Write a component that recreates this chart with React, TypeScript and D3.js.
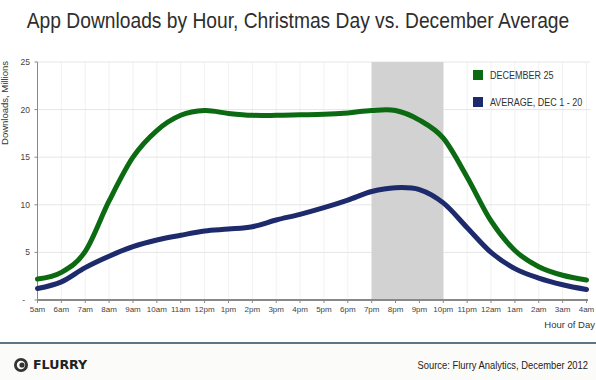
import React from "react";
import * as d3 from "d3";

const hours = ["5am","6am","7am","8am","9am","10am","11am","12pm","1pm","2pm","3pm","4pm","5pm","6pm","7pm","8pm","9pm","10pm","11pm","12am","1am","2am","3am","4am"];
const dec25 = [2.2,2.9,5.1,10.4,15.0,17.8,19.4,19.9,19.6,19.4,19.4,19.45,19.5,19.65,19.9,19.9,18.9,17.0,12.9,8.3,5.2,3.5,2.6,2.1];
const decAvg = [1.2,1.9,3.4,4.6,5.6,6.3,6.8,7.25,7.45,7.7,8.4,9.0,9.7,10.5,11.4,11.8,11.6,10.2,7.6,5.0,3.3,2.3,1.6,1.1];
const yTicks = [0,5,10,15,20,25];
const bandStart = "7pm";
const bandEnd = "10pm";
const seriesNames = ["DECEMBER 25","AVERAGE, DEC 1 - 20"];
const seriesColors = ["#0b6a12","#1d2a6b"];

export default function App() {
  const W = 596, H = 380;
  const x = d3.scalePoint<string>().domain(hours).range([37.5, 586.5]);
  const y = d3.scaleLinear().domain([0, 25]).range([300, 62]);
  const line = d3.line<number>()
    .x((_, i) => x(hours[i]) as number)
    .y((d) => y(d))
    .curve(d3.curveCatmullRom.alpha(0));
  const series = [dec25, decAvg];
  return (
    <svg width={W} height={H} style={{ position: "absolute", left: 0, top: 0, background: "#fff" }}
      fontFamily="'Liberation Sans', Arial, sans-serif">
      <g transform="translate(298,28) scale(0.874,1)">
        <text x={0} y={0} textAnchor="middle" fontSize={22} fill="#2e2e2e">
          App Downloads by Hour, Christmas Day vs. December Average
        </text>
      </g>
      {hours.map((h) => (
        <line key={"vg" + h} x1={x(h)} x2={x(h)} y1={y(25)} y2={y(0)} stroke="#f1f1f1" strokeWidth={1} />
      ))}
      {yTicks.filter((t) => t > 0).map((t) => (
        <line key={"hg" + t} x1={37.5} x2={590} y1={y(t)} y2={y(t)} stroke="#e6e6e6" strokeWidth={1} />
      ))}
      <rect x={x(bandStart)} y={y(25)} width={(x(bandEnd) as number) - (x(bandStart) as number)} height={y(0) - y(25)} fill="#d2d2d2" />
      <line x1={37.5} x2={37.5} y1={y(25)} y2={y(0)} stroke="#888" strokeWidth={1} />
      {yTicks.map((t) => (
        <g key={"yt" + t}>
          <line x1={34.5} x2={37.5} y1={y(t)} y2={y(t)} stroke="#888" />
          <text x={t === 0 ? 25 : 30} y={y(t) + 3} textAnchor="end" fontSize={8.5} fill="#444">
            {t === 0 ? "-" : t}
          </text>
        </g>
      ))}
      <line x1={37.5} x2={588} y1={y(0)} y2={y(0)} stroke="#888" strokeWidth={2} />
      {hours.map((h) => (
        <g key={"xt" + h}>
          <line x1={x(h)} x2={x(h)} y1={y(0)} y2={y(0) + 3} stroke="#888" />
          <text x={x(h)} y={312} textAnchor="middle" fontSize={8} fill="#444">{h}</text>
        </g>
      ))}
      {series.map((s, i) => (
        <path key={"s" + i} d={line(s) || ""} fill="none" stroke={seriesColors[i]} strokeWidth={5} strokeLinecap="round" strokeLinejoin="round" />
      ))}
      {seriesNames.map((n, i) => (
        <g key={"lg" + i}>
          <rect x={473} y={70 + i * 27} width={10} height={10} fill={seriesColors[i]} />
          <g transform={`translate(490,${79 + i * 27}) scale(0.9,1)`}>
            <text x={0} y={0} fontSize={10} fill="#333">{n}</text>
          </g>
        </g>
      ))}
      <text transform="translate(8,103) rotate(-90)" textAnchor="middle" fontSize={9.5} fill="#333">Downloads, Millions</text>
      <text x={595} y={328} textAnchor="end" fontSize={9.5} fill="#333">Hour of Day</text>
      <rect x={0} y={344} width={W} height={36} fill="#fbfbf9" />
      <line x1={0} x2={W} y1={343} y2={343} stroke="#5f7584" strokeWidth={2} />
      <circle cx={21} cy={365} r={7} fill="#333" />
      <circle cx={21} cy={365} r={4.2} fill="#fbfbf9" />
      <circle cx={22} cy={365} r={2.6} fill="#333" />
      <g transform="translate(33,369) scale(1.05,1)">
        <text x={0} y={0} fontSize={12} fontWeight="bold" fill="#222" fontFamily="'DejaVu Sans', sans-serif">FLURRY</text>
      </g>
      <g transform="translate(588,369) scale(0.853,1)">
        <text x={0} y={0} textAnchor="end" fontSize={11} fill="#222">Source: Flurry Analytics, December 2012</text>
      </g>
    </svg>
  );
}
